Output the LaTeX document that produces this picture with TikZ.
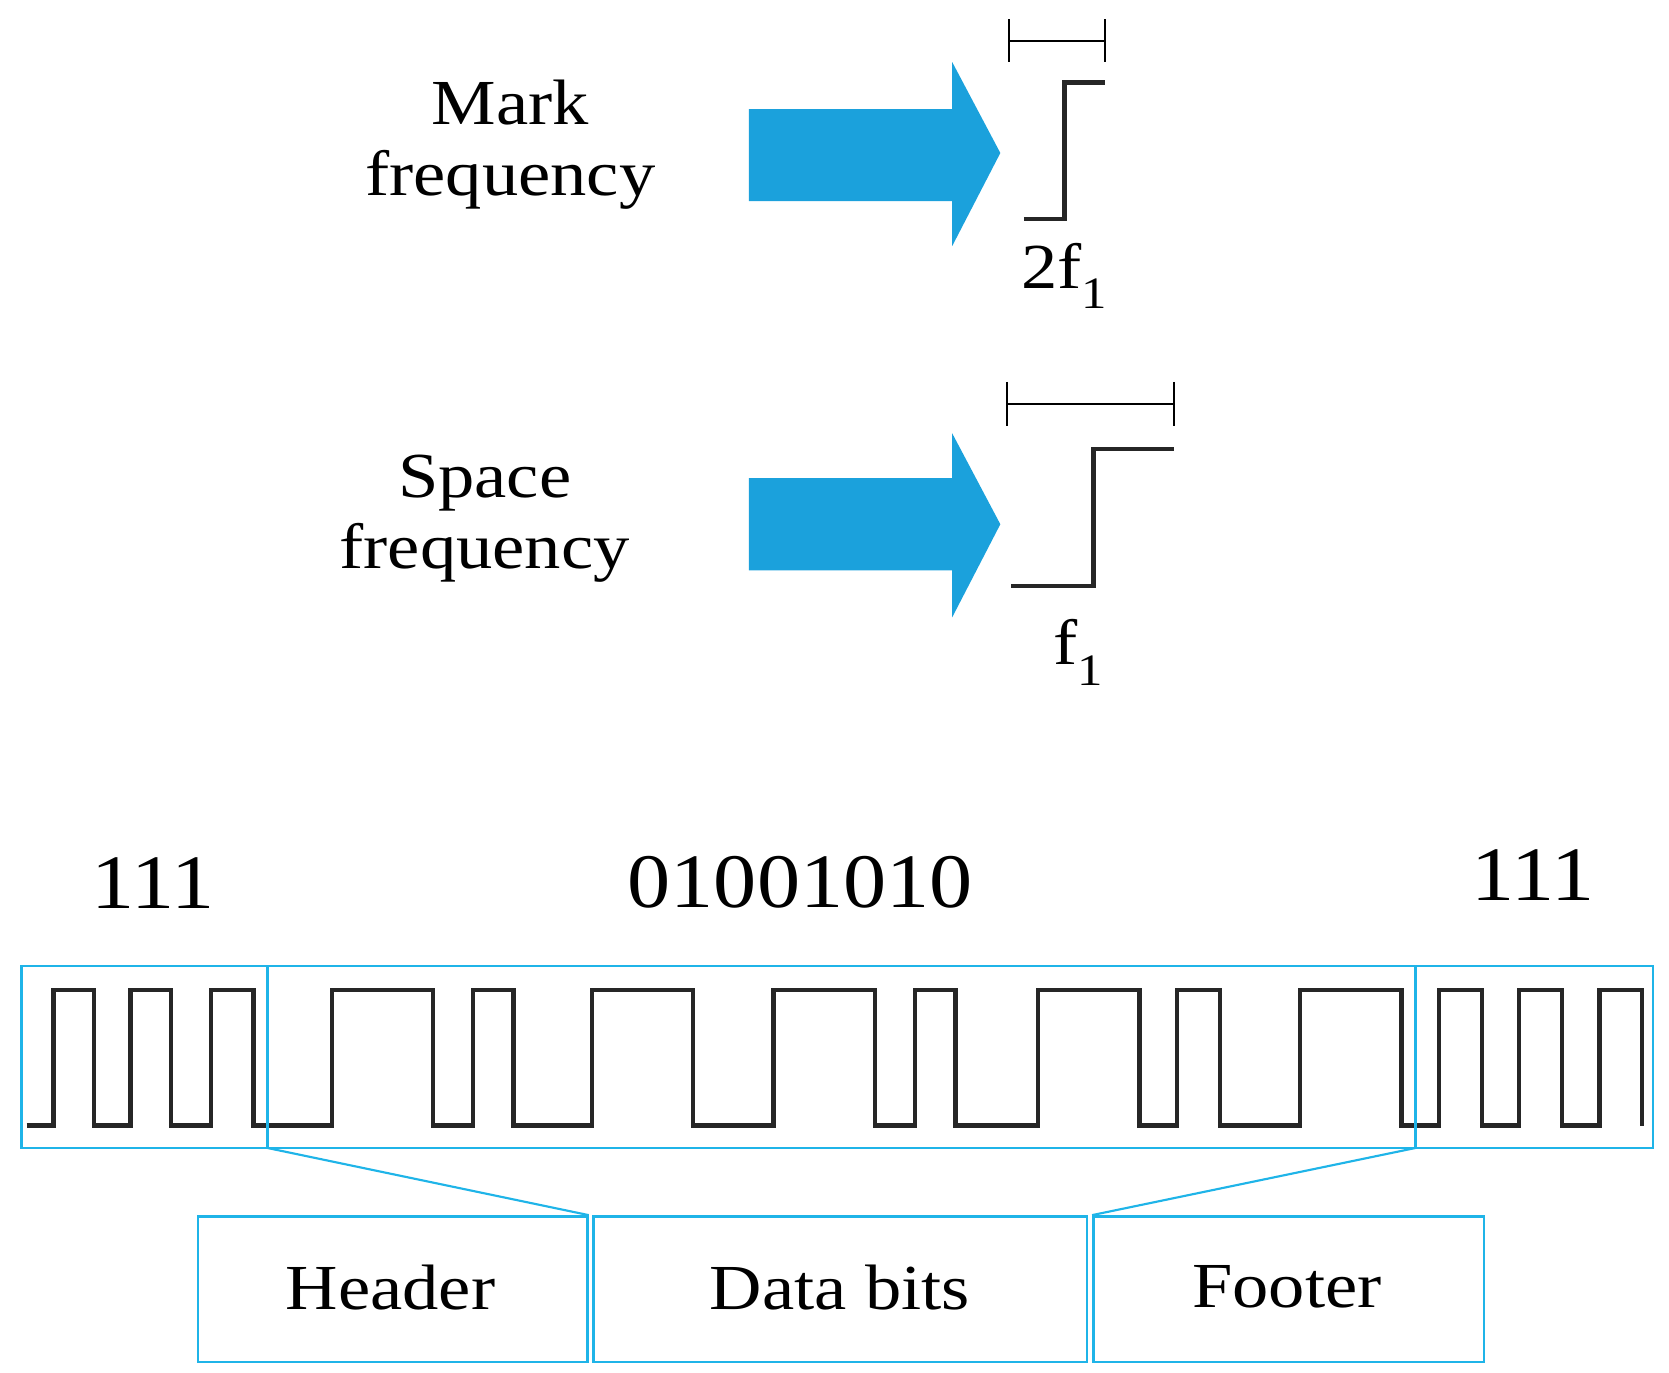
\documentclass[tikz,border=0pt]{standalone}
\usepackage{fontspec}
\setmainfont{Liberation Serif}
\begin{document}
\begin{tikzpicture}[x=1pt,y=-1pt,
  bl/.style={draw=boxblue,line width=2.5pt},
  wave/.style={line width=4pt,line join=miter,black!85},
  arr/.style={fill=arrblue,draw=none},
  lab/.style={font=\fontsize{60}{66}\selectfont,align=center,xscale=1.13,transform shape},
  num/.style={font=\fontsize{72}{76}\selectfont,xscale=1.12,transform shape}]
\definecolor{boxblue}{HTML}{1FB4E8}
\definecolor{arrblue}{HTML}{1BA1DC}
\useasboundingbox (0,0) rectangle (1560,1283);
% top
\node[lab] (mark) at (477,135) {Mark\\frequency};
\node[lab] (space) at (453,485) {Space\\frequency};
\fill[arr] (700,102) -- (890,102) -- (890,58) -- (935,143) -- (890,230) -- (890,188) -- (700,188) -- cycle;
\fill[arr] (700,447) -- (890,447) -- (890,405) -- (935,490) -- (890,577) -- (890,533) -- (700,533) -- cycle;
\draw[wave] (957,205) -- (995,205) -- (995,77) -- (1033,77);
\draw[line width=2pt] (943,38) -- (1033,38) (943,18) -- (943,58) (1033,18) -- (1033,58);
\node[lab] (f2) at (995,258) {2f\textsubscript{1}};
\draw[wave] (945,548) -- (1022,548) -- (1022,420) -- (1097,420);
\draw[line width=2pt] (941,378) -- (1097,378) (941,357) -- (941,398) (1097,357) -- (1097,398);
\node[lab] (f1) at (1008,610) {f\textsubscript{1}};
% bits
\node[num] (h) at (143,825) {111};
\node[num] (d) at (748,825) {01001010};
\node[num] (ft) at (1433,818) {111};
% waveform
\draw[wave] (25,1052)
  \foreach \u/\d in {50/88,122/160,197/237,310/405,442/480,553/648,723/818,855/893,970/1065,1100/1140,1215/1310,1345/1385,1420/1460,1495/1535}
  { -- (\u,1052) -- (\u,925) -- (\d,925) -- (\d,1052) };
% boxes
\draw[bl] (20,903) rectangle (1545,1073);
\draw[bl] (250,903) -- (250,1073) (1323,903) -- (1323,1073);
\node[bl,minimum width=364pt,minimum height=136pt,inner sep=0] (hb) at (367,1205) {};
\node[lab] at (365,1203) {Header};
\node[bl,minimum width=461pt,minimum height=136pt,inner sep=0] (db) at (785.5,1205) {};
\node[lab] at (785,1203) {Data bits};
\node[bl,minimum width=365pt,minimum height=136pt,inner sep=0] (fb) at (1204.5,1205) {};
\node[lab] at (1203,1203) {Footer};
\draw[boxblue,line width=2pt] (250,1073) -- (hb.north east);
\draw[boxblue,line width=2pt] (1323,1073) -- (fb.north west);
\end{tikzpicture}
\end{document}
